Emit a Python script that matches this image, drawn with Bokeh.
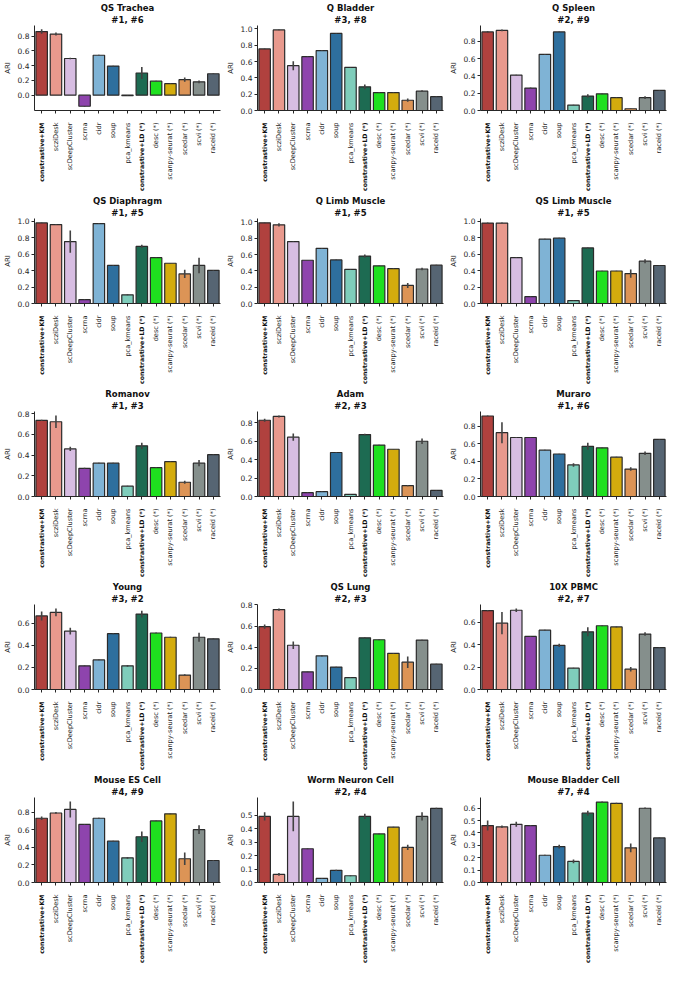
import numpy as np
from bokeh.plotting import figure
from bokeh.layouts import gridplot
from bokeh.core.properties import value
from bokeh.models import (ColumnDataSource, FactorRange, Range1d, FixedTicker,
                          Title, NumeralTickFormatter, CustomLabelingPolicy)
from bokeh.embed import file_html
from bokeh.resources import INLINE

methods = ["constrastive+KM", "scziDesk", "scDeepCluster", "scrna", "cidr", "soup",
           "pca_kmeans", "constrastive+LD (*)", "desc (*)", "scanpy-seurat (*)",
           "scedar (*)", "scvi (*)", "raceid (*)"]
bold_methods = ["constrastive+KM", "constrastive+LD (*)"]
colors = ["#b0413e", "#e8998d", "#d7bde2", "#8e44ad", "#7fb3d5", "#2e6f9e",
          "#7fcdbb", "#1d6b52", "#1fe01f", "#d4ac0d", "#dc9456", "#858f8c", "#566573"]

titles = ["QS Trachea", "Q Bladder", "Q Spleen",
          "QS Diaphragm", "Q Limb Muscle", "QS Limb Muscle",
          "Romanov", "Adam", "Muraro",
          "Young", "QS Lung", "10X PBMC",
          "Mouse ES Cell", "Worm Neuron Cell", "Mouse Bladder Cell"]
ranks = ["#1, #6", "#3, #8", "#2, #9",
         "#1, #5", "#1, #5", "#1, #5",
         "#1, #3", "#2, #3", "#1, #6",
         "#3, #2", "#2, #3", "#2, #7",
         "#4, #9", "#2, #4", "#7, #4"]

qs_trachea = [0.86, 0.826, 0.496, -0.15, 0.54, 0.394, -0.005, 0.30, 0.19, 0.155, 0.21, 0.18, 0.29]
qs_trachea_err = [0.03, 0.02, 0.01, 0.005, 0.005, 0.005, 0.003, 0.08, 0.005, 0.005, 0.03, 0.02, 0.005]
q_bladder = [0.755, 0.988, 0.55, 0.66, 0.735, 0.945, 0.53, 0.29, 0.22, 0.22, 0.126, 0.237, 0.17]
q_bladder_err = [0.005, 0.005, 0.055, 0.004, 0.004, 0.004, 0.004, 0.03, 0.004, 0.004, 0.02, 0.01, 0.004]
q_spleen = [0.91, 0.927, 0.41, 0.26, 0.65, 0.91, 0.063, 0.167, 0.193, 0.149, 0.02, 0.149, 0.234]
q_spleen_err = [0.01, 0.01, 0.003, 0.005, 0.005, 0.004, 0.003, 0.02, 0.005, 0.005, 0.003, 0.015, 0.004]
qs_diaphragm = [0.98, 0.96, 0.753, 0.047, 0.972, 0.463, 0.106, 0.694, 0.557, 0.49, 0.36, 0.463, 0.404]
qs_diaphragm_err = [0.005, 0.005, 0.135, 0.005, 0.004, 0.004, 0.006, 0.02, 0.004, 0.004, 0.05, 0.095, 0.004]
q_limb_muscle = [0.988, 0.964, 0.759, 0.53, 0.676, 0.534, 0.419, 0.581, 0.462, 0.427, 0.221, 0.423, 0.47]
q_limb_muscle_err = [0.004, 0.02, 0.005, 0.004, 0.004, 0.004, 0.005, 0.02, 0.004, 0.004, 0.03, 0.015, 0.004]
qs_limb_muscle = [0.978, 0.978, 0.557, 0.083, 0.783, 0.794, 0.036, 0.675, 0.395, 0.395, 0.364, 0.514, 0.462]
qs_limb_muscle_err = [0.006, 0.006, 0.004, 0.004, 0.004, 0.004, 0.004, 0.006, 0.004, 0.004, 0.05, 0.025, 0.004]
romanov = [0.736, 0.723, 0.46, 0.273, 0.322, 0.322, 0.10, 0.49, 0.279, 0.337, 0.138, 0.322, 0.405]
romanov_err = [0.006, 0.06, 0.02, 0.004, 0.004, 0.004, 0.004, 0.03, 0.004, 0.004, 0.015, 0.03, 0.004]
adam = [0.828, 0.869, 0.644, 0.042, 0.052, 0.478, 0.024, 0.672, 0.558, 0.513, 0.118, 0.60, 0.066]
adam_err = [0.015, 0.01, 0.04, 0.004, 0.004, 0.004, 0.003, 0.01, 0.004, 0.004, 0.008, 0.03, 0.003]
muraro = [0.917, 0.727, 0.672, 0.672, 0.528, 0.484, 0.36, 0.572, 0.554, 0.448, 0.312, 0.492, 0.65]
muraro_err = [0.005, 0.12, 0.006, 0.004, 0.004, 0.004, 0.02, 0.04, 0.004, 0.004, 0.02, 0.02, 0.004]
young = [0.664, 0.696, 0.527, 0.214, 0.267, 0.504, 0.214, 0.681, 0.51, 0.472, 0.13, 0.472, 0.458]
young_err = [0.04, 0.035, 0.03, 0.005, 0.004, 0.004, 0.008, 0.03, 0.004, 0.004, 0.008, 0.04, 0.004]
qs_lung = [0.594, 0.755, 0.418, 0.167, 0.318, 0.212, 0.112, 0.488, 0.47, 0.342, 0.258, 0.467, 0.239]
qs_lung_err = [0.02, 0.01, 0.035, 0.004, 0.005, 0.004, 0.004, 0.006, 0.004, 0.004, 0.055, 0.004, 0.004]
pbmc_10x = [0.703, 0.591, 0.706, 0.473, 0.528, 0.393, 0.19, 0.514, 0.568, 0.557, 0.181, 0.494, 0.373]
pbmc_10x_err = [0.005, 0.10, 0.015, 0.004, 0.004, 0.015, 0.004, 0.04, 0.004, 0.004, 0.02, 0.015, 0.004]
mouse_es = [0.73, 0.79, 0.83, 0.66, 0.73, 0.47, 0.28, 0.52, 0.70, 0.78, 0.27, 0.60, 0.25]
mouse_es_err = [0.02, 0.01, 0.09, 0.005, 0.005, 0.005, 0.01, 0.06, 0.005, 0.005, 0.07, 0.05, 0.005]
worm_neuron = [0.49, 0.06, 0.49, 0.25, 0.03, 0.09, 0.05, 0.49, 0.36, 0.41, 0.26, 0.49, 0.55]
worm_neuron_err = [0.03, 0.01, 0.11, 0.004, 0.003, 0.004, 0.003, 0.02, 0.004, 0.004, 0.02, 0.03, 0.004]
mouse_bladder = [0.46, 0.45, 0.47, 0.46, 0.22, 0.29, 0.17, 0.56, 0.65, 0.64, 0.28, 0.60, 0.36]
mouse_bladder_err = [0.04, 0.01, 0.02, 0.004, 0.004, 0.015, 0.015, 0.02, 0.004, 0.004, 0.035, 0.005, 0.004]

values = [qs_trachea, q_bladder, q_spleen, qs_diaphragm, q_limb_muscle, qs_limb_muscle,
          romanov, adam, muraro, young, qs_lung, pbmc_10x, mouse_es, worm_neuron, mouse_bladder]
errors = [qs_trachea_err, q_bladder_err, q_spleen_err, qs_diaphragm_err, q_limb_muscle_err,
          qs_limb_muscle_err, romanov_err, adam_err, muraro_err, young_err, qs_lung_err,
          pbmc_10x_err, mouse_es_err, worm_neuron_err, mouse_bladder_err]
y_ticks = [[0.0, 0.2, 0.4, 0.6, 0.8], [0.0, 0.2, 0.4, 0.6, 0.8, 1.0], [0.0, 0.2, 0.4, 0.6, 0.8],
           [0.0, 0.2, 0.4, 0.6, 0.8, 1.0], [0.0, 0.2, 0.4, 0.6, 0.8, 1.0], [0.0, 0.2, 0.4, 0.6, 0.8, 1.0],
           [0.0, 0.2, 0.4, 0.6, 0.8], [0.0, 0.2, 0.4, 0.6, 0.8], [0.0, 0.2, 0.4, 0.6, 0.8],
           [0.0, 0.2, 0.4, 0.6], [0.0, 0.2, 0.4, 0.6, 0.8], [0.0, 0.2, 0.4, 0.6],
           [0.0, 0.2, 0.4, 0.6, 0.8], [0.0, 0.1, 0.2, 0.3, 0.4, 0.5], [0.0, 0.1, 0.2, 0.3, 0.4, 0.5, 0.6]]

FONT = "DejaVu Sans"
TXT = "#262626"
W = 223
BAR_H = 117
LAB_H = 76
LEFT = 30
RIGHT = 3


def make_panel(title, rank, vals, errs, ticks):
    v = np.array(vals)
    e = np.array(errs)
    lo = min(0.0, float((v - e).min()))
    hi = float((v + e).max())
    span = hi - lo
    y0 = lo - 0.05 * span if lo < 0 else 0.0
    y1 = hi + 0.05 * span

    xr = FactorRange(*methods, range_padding=0)
    p = figure(x_range=xr, y_range=Range1d(y0, y1), width=W, height=BAR_H,
               output_backend="svg", toolbar_location=None, title=None,
               min_border_left=LEFT, min_border_right=RIGHT, min_border_top=0,
               min_border_bottom=0)
    p.add_layout(Title(text=rank, align="center", text_font_size="8.5px",
                       text_font_style="bold", text_font=FONT, standoff=1,
                       text_color="#111111"), "above")
    p.add_layout(Title(text=title, align="center", text_font_size="8.5px",
                       text_font_style="bold", text_font=FONT, standoff=0,
                       text_color="#111111"), "above")

    src = ColumnDataSource(dict(x=methods, top=vals, lo=list(v - e), hi=list(v + e),
                                color=colors))
    p.vbar(x="x", top="top", bottom=0, width=0.8, fill_color="color",
           line_color="#2b2b2b", line_width=1.2, source=src)
    p.segment(x0="x", y0="lo", x1="x", y1="hi", line_color="#424242",
              line_width=1.6, source=src)

    p.outline_line_color = None
    p.xgrid.visible = False
    p.ygrid.visible = False

    p.yaxis.ticker = FixedTicker(ticks=ticks)
    p.yaxis.formatter = NumeralTickFormatter(format="0.0")
    p.yaxis.axis_label = "ARI"
    p.yaxis.axis_label_text_font_size = "7px"
    p.yaxis.axis_label_text_font_style = "normal"
    p.yaxis.axis_label_text_font = FONT
    p.yaxis.axis_label_text_color = TXT
    p.yaxis.axis_label_standoff = 3
    p.yaxis.minor_tick_line_color = None

    for ax in (p.xaxis[0], p.yaxis[0]):
        ax.major_label_text_font_size = "7.5px"
        ax.major_label_text_font = FONT
        ax.major_label_text_color = TXT
        ax.axis_line_color = "#262626"
        ax.axis_line_width = 1
        ax.major_tick_line_color = "#262626"
        ax.major_tick_out = 3
        ax.major_tick_in = 0
        ax.major_label_standoff = 2

    # the x axis keeps its spine and ticks; its names are drawn in the strip below
    p.xaxis.major_label_policy = CustomLabelingPolicy(code="return []")
    p.xaxis.major_label_text_font_size = "1px"
    p.xaxis.major_label_orientation = "horizontal"
    p.xaxis.major_label_standoff = 0

    # strip with the category names (two of them bold)
    q = figure(x_range=xr, y_range=Range1d(-LAB_H, 0), width=W, height=LAB_H,
               output_backend="svg", toolbar_location=None, title=None,
               x_axis_location=None, y_axis_location=None,
               min_border_left=LEFT, min_border_right=RIGHT, min_border_top=0,
               min_border_bottom=0)
    q.outline_line_color = None
    q.xgrid.visible = False
    q.ygrid.visible = False
    normal = [m for m in methods if m not in bold_methods]
    q.text(x=normal, y=[0] * len(normal), text=normal, angle=np.pi / 2,
           text_align="right", text_baseline="middle", y_offset=5,
           text_font_size=value("6.6px"), text_font=value(FONT), text_color=TXT)
    q.text(x=bold_methods, y=[0] * len(bold_methods), text=bold_methods,
           angle=np.pi / 2, text_align="right", text_baseline="middle", y_offset=5,
           text_font_size=value("6.2px"), text_font_style="bold",
           text_font=value(FONT), text_color="#111111")
    return p, q


panels = [make_panel(t, r, v, e, tk)
          for t, r, v, e, tk in zip(titles, ranks, values, errors, y_ticks)]
children = []
for row in range(5):
    trio = panels[row * 3:row * 3 + 3]
    children += [pq[0] for pq in trio]
    children += [pq[1] for pq in trio]
grid = gridplot(children, ncols=3, toolbar_location=None)

open("out.html", "w").write(file_html(grid, INLINE))
